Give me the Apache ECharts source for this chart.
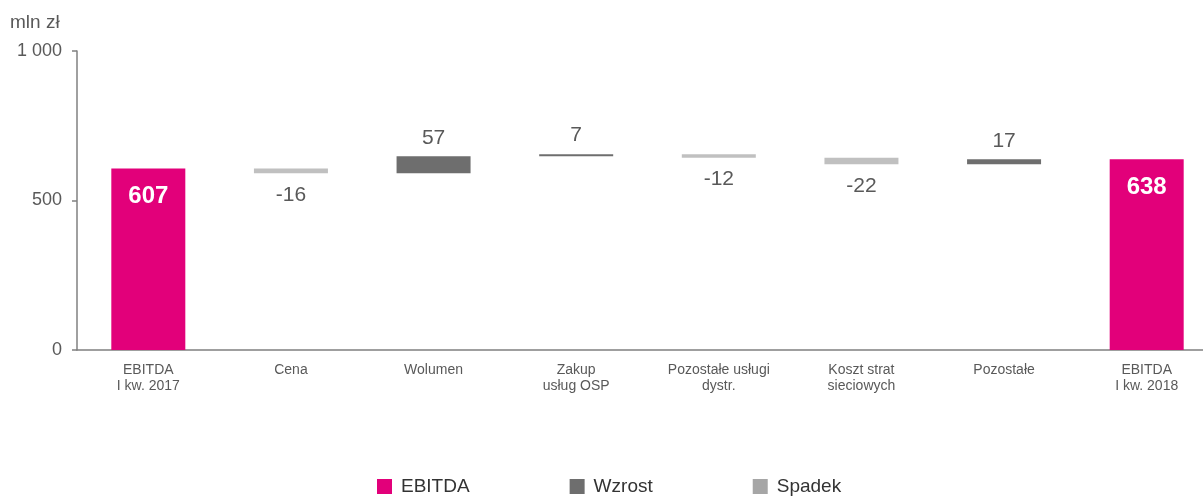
<!DOCTYPE html>
<html><head><meta charset="utf-8">
<script src="https://cdn.jsdelivr.net/npm/echarts@6/dist/echarts.min.js"></script>
<style>html,body{margin:0;padding:0;background:#fff;overflow:hidden}#c{width:1220px;height:500px}</style>
</head><body><div id="c"></div>
<script>
const categories = ['EBITDA\nI kw. 2017','Cena','Wolumen','Zakup\nusług OSP','Pozostałe usługi\ndystr.','Koszt strat\nsieciowych','Pozostałe','EBITDA\nI kw. 2018'];
const values = [607, -16, 57, 7, -12, -22, 17, 638];
const totalIdx = [0, 7];
const yTicks = [0, 500, 1000];

const base = [], ebitda = [], up = [], down = [];
let run = 0;
values.forEach((v, i) => {
  if (totalIdx.includes(i)) {
    base.push(0); ebitda.push(v); up.push('-'); down.push('-'); run = v;
  } else if (v >= 0) {
    base.push(run); up.push(v); down.push('-'); ebitda.push('-'); run += v;
  } else {
    run += v; base.push(run); down.push(-v); up.push('-'); ebitda.push('-');
  }
});

const txt = '#595959';
const font = "'Liberation Sans', Arial, sans-serif";
const chart = echarts.init(document.getElementById('c'));
chart.setOption({
  animation: false,
  textStyle: {fontFamily: font},
  grid: {left: 77, right: 2, top: 51, bottom: 150},
  title: {text: 'mln zł', left: 5, top: 8, textStyle: {fontSize: 19, fontWeight: 'normal', color: txt, fontFamily: font}},
  legend: {
    bottom: 4, left: 377, padding: 0, itemWidth: 15, itemHeight: 15, itemGap: 100,
    textStyle: {fontSize: 19, color: '#333', fontFamily: font, padding: [0, 0, 0, 4]},
    data: [
      {name: 'EBITDA', icon: 'rect', itemStyle: {color: '#E2007A'}},
      {name: 'Wzrost', icon: 'rect', itemStyle: {color: '#6E6E6E'}},
      {name: 'Spadek', icon: 'rect', itemStyle: {color: '#A6A6A6'}}
    ]
  },
  xAxis: {
    type: 'category', data: categories,
    axisLine: {lineStyle: {color: '#808080', width: 1.5}},
    axisTick: {show: false},
    axisLabel: {color: txt, fontSize: 14, margin: 12, lineHeight: 16, interval: 0, fontFamily: font}
  },
  yAxis: {
    type: 'value', min: yTicks[0], max: yTicks[yTicks.length - 1], interval: 500,
    splitLine: {show: false},
    axisLine: {show: true, lineStyle: {color: '#808080', width: 1.5}},
    axisTick: {show: true, length: 5, lineStyle: {color: '#808080', width: 1.5}},
    axisLabel: {color: txt, fontSize: 18, margin: 15, fontFamily: font,
      formatter: v => String(v).replace(/\B(?=(\d{3})+(?!\d))/g, ' ')}
  },
  series: [
    {name: 'base', type: 'bar', stack: 'w', data: base, barWidth: 74,
     itemStyle: {color: 'transparent'}, silent: true},
    {name: 'EBITDA', type: 'bar', stack: 'w', data: ebitda, barWidth: 74,
     itemStyle: {color: '#E2007A'},
     label: {show: true, position: 'insideTop', distance: 16, color: '#fff', fontSize: 24, fontWeight: 'bold', fontFamily: font}},
    {name: 'Wzrost', type: 'bar', stack: 'w', data: up, barWidth: 74,
     itemStyle: {color: '#6E6E6E'},
     label: {show: true, position: 'top', distance: 8, color: txt, fontSize: 21, fontFamily: font}},
    {name: 'Spadek', type: 'bar', stack: 'w', data: down, barWidth: 74,
     itemStyle: {color: '#C0C0C0'},
     label: {show: true, position: 'bottom', distance: 11, color: txt, fontSize: 21, fontFamily: font,
       formatter: p => '-' + p.value}}
  ]
});
</script></body></html>
